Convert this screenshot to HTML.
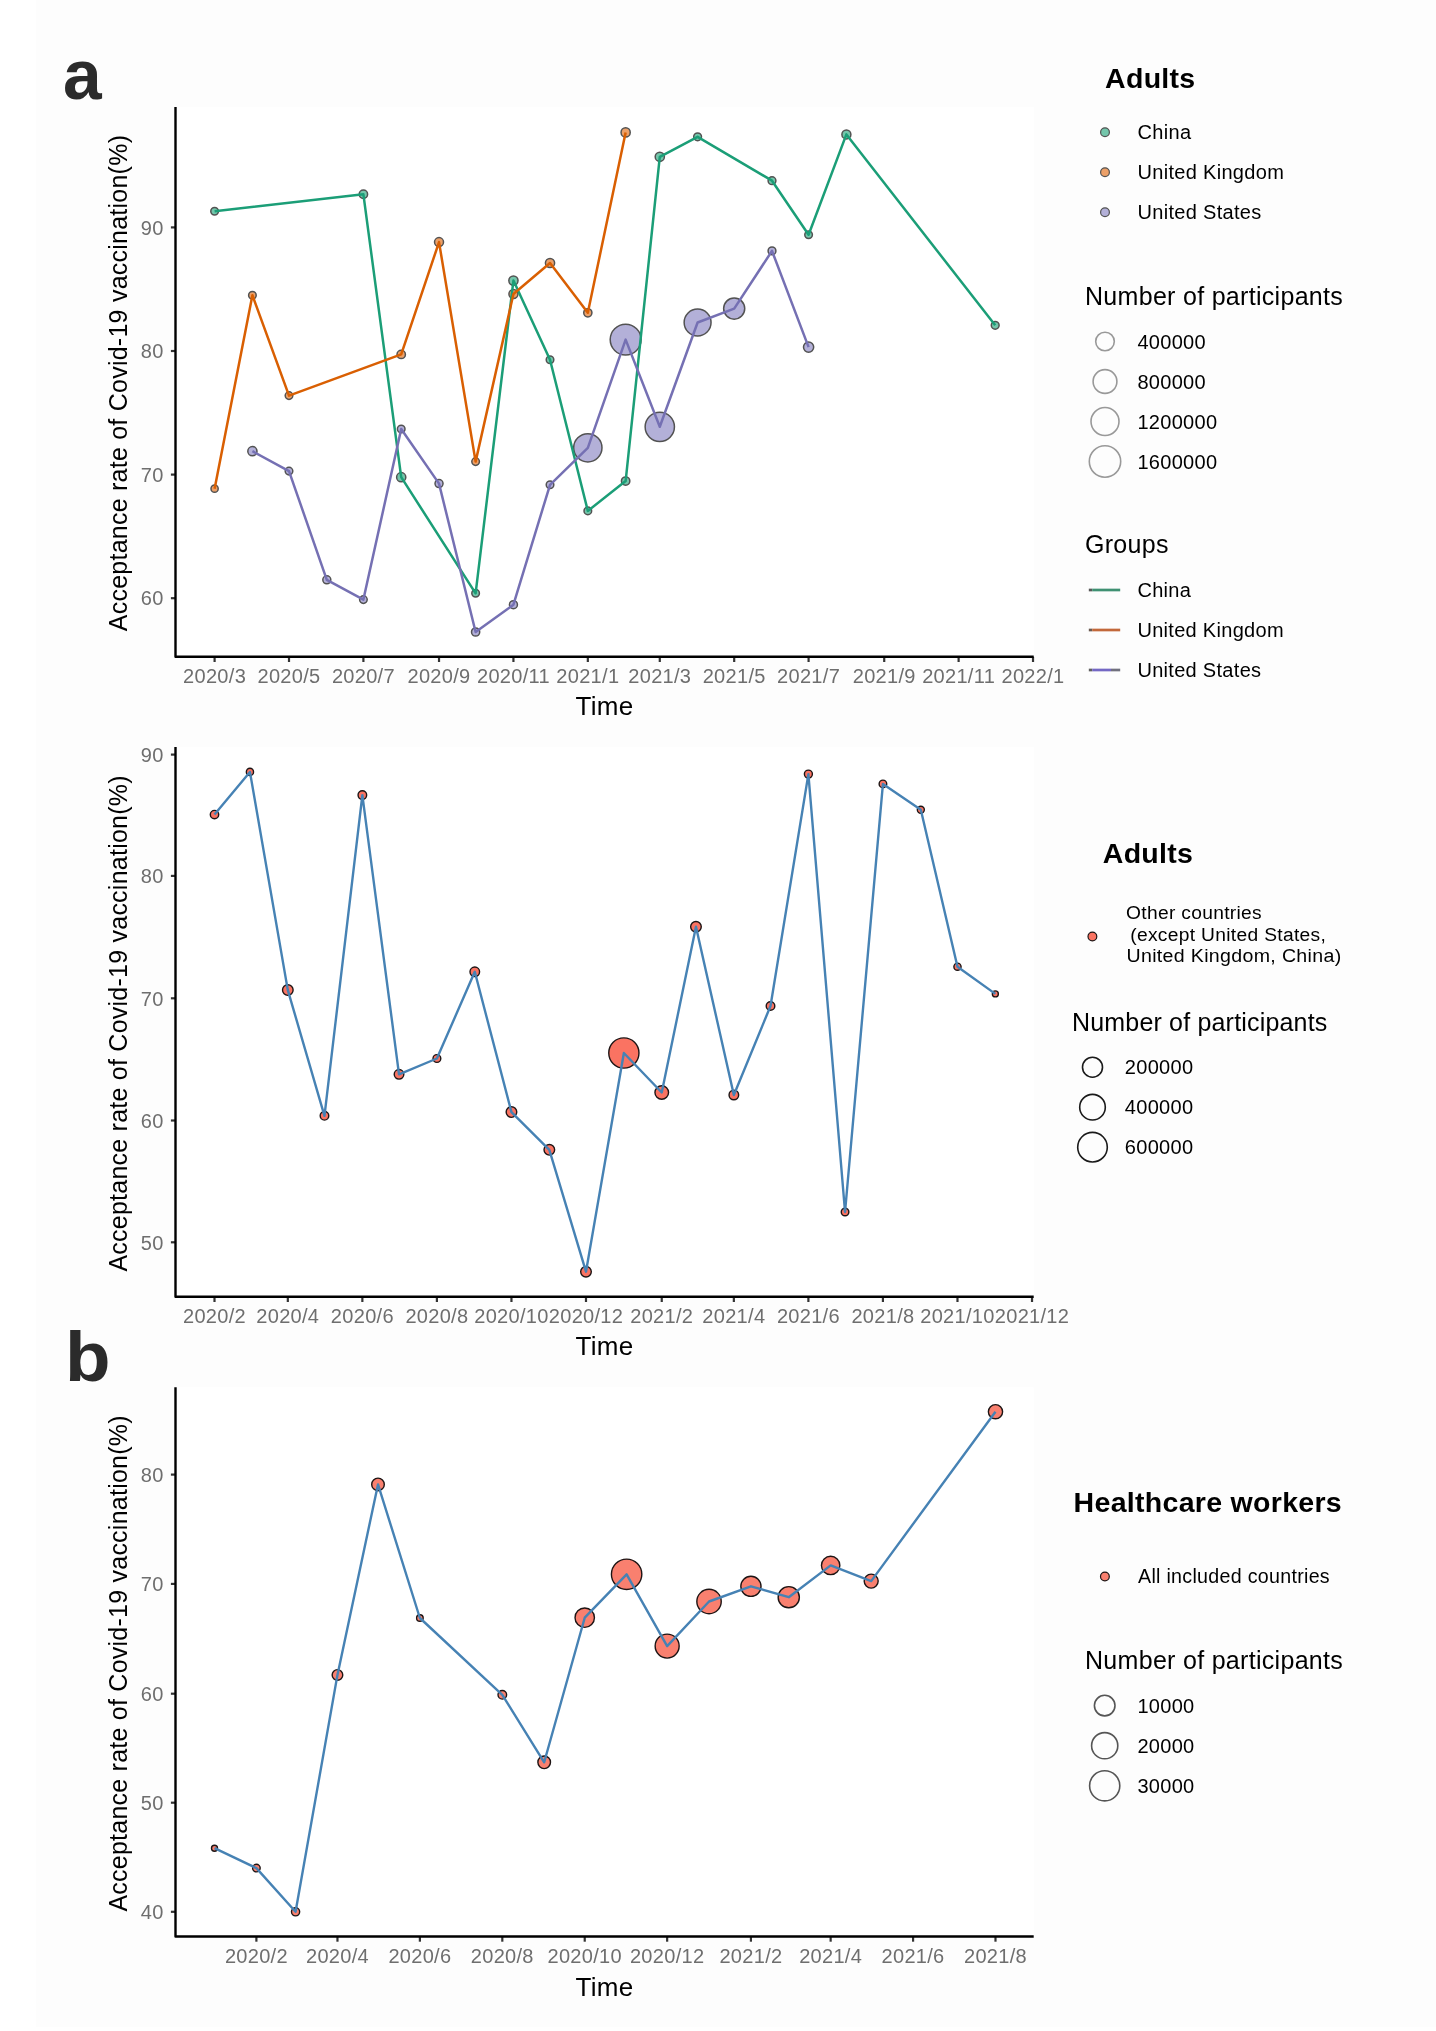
<!DOCTYPE html>
<html><head><meta charset="utf-8"><title>Covid-19 vaccination acceptance</title>
<style>html,body{margin:0;padding:0;background:#fff;}body{width:1436px;height:2031px;position:relative;overflow:hidden;font-family:"Liberation Sans", sans-serif;}#fig{position:absolute;left:0;top:0;will-change:transform;font-family:"Liberation Sans", sans-serif;letter-spacing:0.3px;}</style>
</head><body>
<svg width="1436" height="2031" viewBox="0 0 1436 2031" id="fig">
<rect x="0" y="0" width="1436" height="2031" fill="#ffffff"/>
<rect x="36" y="0" width="1400" height="2027" fill="#fdfdfd"/>
<text x="63.00" y="99.00" font-size="69.5" fill="#2b2b2b" text-anchor="start" font-weight="bold" >a</text>
<text x="0.00" y="0.00" font-size="71" fill="#2b2b2b" text-anchor="start" font-weight="bold" transform="translate(65.0,1381.4) scale(1.05,1)">b</text>
<rect x="175.50" y="107.00" width="858.20" height="549.80" fill="#ffffff"/>
<line x1="170.90" y1="227.40" x2="175.50" y2="227.40" stroke="#333333" stroke-width="2.2"/>
<text x="163.60" y="234.60" font-size="20" fill="#6e6e6e" text-anchor="end" font-weight="normal" >90</text>
<line x1="170.90" y1="351.00" x2="175.50" y2="351.00" stroke="#333333" stroke-width="2.2"/>
<text x="163.60" y="358.20" font-size="20" fill="#6e6e6e" text-anchor="end" font-weight="normal" >80</text>
<line x1="170.90" y1="474.60" x2="175.50" y2="474.60" stroke="#333333" stroke-width="2.2"/>
<text x="163.60" y="481.80" font-size="20" fill="#6e6e6e" text-anchor="end" font-weight="normal" >70</text>
<line x1="170.90" y1="598.20" x2="175.50" y2="598.20" stroke="#333333" stroke-width="2.2"/>
<text x="163.60" y="605.40" font-size="20" fill="#6e6e6e" text-anchor="end" font-weight="normal" >60</text>
<line x1="214.60" y1="656.80" x2="214.60" y2="662.00" stroke="#333333" stroke-width="2.2"/>
<text x="214.60" y="682.80" font-size="20" fill="#6e6e6e" text-anchor="middle" font-weight="normal" >2020/3</text>
<line x1="289.00" y1="656.80" x2="289.00" y2="662.00" stroke="#333333" stroke-width="2.2"/>
<text x="289.00" y="682.80" font-size="20" fill="#6e6e6e" text-anchor="middle" font-weight="normal" >2020/5</text>
<line x1="363.40" y1="656.80" x2="363.40" y2="662.00" stroke="#333333" stroke-width="2.2"/>
<text x="363.40" y="682.80" font-size="20" fill="#6e6e6e" text-anchor="middle" font-weight="normal" >2020/7</text>
<line x1="439.02" y1="656.80" x2="439.02" y2="662.00" stroke="#333333" stroke-width="2.2"/>
<text x="439.02" y="682.80" font-size="20" fill="#6e6e6e" text-anchor="middle" font-weight="normal" >2020/9</text>
<line x1="513.43" y1="656.80" x2="513.43" y2="662.00" stroke="#333333" stroke-width="2.2"/>
<text x="513.43" y="682.80" font-size="20" fill="#6e6e6e" text-anchor="middle" font-weight="normal" >2020/11</text>
<line x1="587.83" y1="656.80" x2="587.83" y2="662.00" stroke="#333333" stroke-width="2.2"/>
<text x="587.83" y="682.80" font-size="20" fill="#6e6e6e" text-anchor="middle" font-weight="normal" >2021/1</text>
<line x1="659.79" y1="656.80" x2="659.79" y2="662.00" stroke="#333333" stroke-width="2.2"/>
<text x="659.79" y="682.80" font-size="20" fill="#6e6e6e" text-anchor="middle" font-weight="normal" >2021/3</text>
<line x1="734.19" y1="656.80" x2="734.19" y2="662.00" stroke="#333333" stroke-width="2.2"/>
<text x="734.19" y="682.80" font-size="20" fill="#6e6e6e" text-anchor="middle" font-weight="normal" >2021/5</text>
<line x1="808.59" y1="656.80" x2="808.59" y2="662.00" stroke="#333333" stroke-width="2.2"/>
<text x="808.59" y="682.80" font-size="20" fill="#6e6e6e" text-anchor="middle" font-weight="normal" >2021/7</text>
<line x1="884.22" y1="656.80" x2="884.22" y2="662.00" stroke="#333333" stroke-width="2.2"/>
<text x="884.22" y="682.80" font-size="20" fill="#6e6e6e" text-anchor="middle" font-weight="normal" >2021/9</text>
<line x1="958.62" y1="656.80" x2="958.62" y2="662.00" stroke="#333333" stroke-width="2.2"/>
<text x="958.62" y="682.80" font-size="20" fill="#6e6e6e" text-anchor="middle" font-weight="normal" >2021/11</text>
<line x1="1033.02" y1="656.80" x2="1033.02" y2="662.00" stroke="#333333" stroke-width="2.2"/>
<text x="1033.02" y="682.80" font-size="20" fill="#6e6e6e" text-anchor="middle" font-weight="normal" >2022/1</text>
<path d="M175.50,107.00 L175.50,656.80 L1033.70,656.80" fill="none" stroke="#000" stroke-width="2.4" stroke-linejoin="round" stroke-linecap="butt"/>
<text x="604.60" y="715.00" font-size="26" fill="#000" text-anchor="middle" font-weight="normal" >Time</text>
<text x="0" y="0" font-size="25.0" fill="#000" text-anchor="middle" letter-spacing="0.24" transform="translate(127.2,383.00) rotate(-90)">Acceptance rate of Covid-19 vaccination(%)</text>
<circle cx="214.60" cy="211.20" r="3.80" fill="#74c6ab" stroke="#525252" stroke-width="1.5"/>
<circle cx="363.40" cy="194.30" r="4.20" fill="#74c6ab" stroke="#525252" stroke-width="1.5"/>
<circle cx="401.21" cy="477.20" r="4.60" fill="#74c6ab" stroke="#525252" stroke-width="1.5"/>
<circle cx="475.62" cy="593.30" r="3.80" fill="#74c6ab" stroke="#525252" stroke-width="1.5"/>
<circle cx="513.43" cy="280.60" r="4.60" fill="#74c6ab" stroke="#525252" stroke-width="1.5"/>
<circle cx="550.02" cy="359.80" r="3.80" fill="#74c6ab" stroke="#525252" stroke-width="1.5"/>
<circle cx="587.83" cy="510.90" r="3.80" fill="#74c6ab" stroke="#525252" stroke-width="1.5"/>
<circle cx="625.64" cy="481.10" r="4.20" fill="#74c6ab" stroke="#525252" stroke-width="1.5"/>
<circle cx="659.79" cy="156.80" r="4.60" fill="#74c6ab" stroke="#525252" stroke-width="1.5"/>
<circle cx="697.60" cy="136.80" r="3.90" fill="#74c6ab" stroke="#525252" stroke-width="1.5"/>
<circle cx="772.00" cy="180.70" r="3.90" fill="#74c6ab" stroke="#525252" stroke-width="1.5"/>
<circle cx="808.59" cy="234.80" r="3.80" fill="#74c6ab" stroke="#525252" stroke-width="1.5"/>
<circle cx="846.40" cy="134.40" r="4.50" fill="#74c6ab" stroke="#525252" stroke-width="1.5"/>
<circle cx="995.21" cy="325.30" r="3.90" fill="#74c6ab" stroke="#525252" stroke-width="1.5"/>
<circle cx="214.60" cy="488.70" r="3.60" fill="#eca068" stroke="#525252" stroke-width="1.5"/>
<circle cx="252.41" cy="295.20" r="3.80" fill="#eca068" stroke="#525252" stroke-width="1.5"/>
<circle cx="289.00" cy="395.60" r="3.80" fill="#eca068" stroke="#525252" stroke-width="1.5"/>
<circle cx="401.21" cy="354.40" r="4.20" fill="#eca068" stroke="#525252" stroke-width="1.5"/>
<circle cx="439.02" cy="242.10" r="4.50" fill="#eca068" stroke="#525252" stroke-width="1.5"/>
<circle cx="475.62" cy="461.60" r="3.80" fill="#eca068" stroke="#525252" stroke-width="1.5"/>
<circle cx="513.43" cy="294.00" r="4.50" fill="#eca068" stroke="#525252" stroke-width="1.5"/>
<circle cx="550.02" cy="263.00" r="4.60" fill="#eca068" stroke="#525252" stroke-width="1.5"/>
<circle cx="587.83" cy="312.80" r="4.10" fill="#eca068" stroke="#525252" stroke-width="1.5"/>
<circle cx="625.64" cy="132.40" r="4.60" fill="#eca068" stroke="#525252" stroke-width="1.5"/>
<circle cx="252.41" cy="451.20" r="4.60" fill="#b3b0d8" stroke="#525252" stroke-width="1.5"/>
<circle cx="289.00" cy="471.10" r="3.80" fill="#b3b0d8" stroke="#525252" stroke-width="1.5"/>
<circle cx="326.81" cy="579.80" r="4.00" fill="#b3b0d8" stroke="#525252" stroke-width="1.5"/>
<circle cx="363.40" cy="599.60" r="3.80" fill="#b3b0d8" stroke="#525252" stroke-width="1.5"/>
<circle cx="401.21" cy="429.00" r="3.80" fill="#b3b0d8" stroke="#525252" stroke-width="1.5"/>
<circle cx="439.02" cy="483.60" r="4.00" fill="#b3b0d8" stroke="#525252" stroke-width="1.5"/>
<circle cx="475.62" cy="632.00" r="4.10" fill="#b3b0d8" stroke="#525252" stroke-width="1.5"/>
<circle cx="513.43" cy="604.70" r="4.00" fill="#b3b0d8" stroke="#525252" stroke-width="1.5"/>
<circle cx="550.02" cy="484.80" r="3.80" fill="#b3b0d8" stroke="#525252" stroke-width="1.5"/>
<circle cx="587.83" cy="447.80" r="14.15" fill="#b3b0d8" stroke="#525252" stroke-width="1.5"/>
<circle cx="625.64" cy="339.60" r="15.45" fill="#b3b0d8" stroke="#525252" stroke-width="1.5"/>
<circle cx="659.79" cy="426.80" r="14.65" fill="#b3b0d8" stroke="#525252" stroke-width="1.5"/>
<circle cx="697.60" cy="322.50" r="13.45" fill="#b3b0d8" stroke="#525252" stroke-width="1.5"/>
<circle cx="734.19" cy="308.60" r="10.55" fill="#b3b0d8" stroke="#525252" stroke-width="1.5"/>
<circle cx="772.00" cy="250.90" r="3.90" fill="#b3b0d8" stroke="#525252" stroke-width="1.5"/>
<circle cx="808.59" cy="347.10" r="5.10" fill="#b3b0d8" stroke="#525252" stroke-width="1.5"/>
<polyline points="214.60,211.20 363.40,194.30 401.21,477.20 475.62,593.30 513.43,280.60 550.02,359.80 587.83,510.90 625.64,481.10 659.79,156.80 697.60,136.80 772.00,180.70 808.59,234.80 846.40,134.40 995.21,325.30" fill="none" stroke="#1B9E77" stroke-width="2.5" stroke-linejoin="round" stroke-linecap="butt"/>
<polyline points="214.60,488.70 252.41,295.20 289.00,395.60 401.21,354.40 439.02,242.10 475.62,461.60 513.43,294.00 550.02,263.00 587.83,312.80 625.64,132.40" fill="none" stroke="#D95F02" stroke-width="2.5" stroke-linejoin="round" stroke-linecap="butt"/>
<polyline points="252.41,451.20 289.00,471.10 326.81,579.80 363.40,599.60 401.21,429.00 439.02,483.60 475.62,632.00 513.43,604.70 550.02,484.80 587.83,447.80 625.64,339.60 659.79,426.80 697.60,322.50 734.19,308.60 772.00,250.90 808.59,347.10" fill="none" stroke="#7570B3" stroke-width="2.5" stroke-linejoin="round" stroke-linecap="butt"/>
<text x="1150.30" y="88.00" font-size="28.5" fill="#000" text-anchor="middle" font-weight="bold" >Adults</text>
<circle cx="1105.0" cy="132.20" r="4.4" fill="#74c6ab" stroke="#525252" stroke-width="1.2"/>
<text x="1137.60" y="139.20" font-size="20" fill="#000" text-anchor="start" font-weight="normal" >China</text>
<circle cx="1105.0" cy="172.20" r="4.4" fill="#eca068" stroke="#525252" stroke-width="1.2"/>
<text x="1137.60" y="179.20" font-size="20" fill="#000" text-anchor="start" font-weight="normal" >United Kingdom</text>
<circle cx="1105.0" cy="212.20" r="4.4" fill="#b3b0d8" stroke="#525252" stroke-width="1.2"/>
<text x="1137.60" y="219.20" font-size="20" fill="#000" text-anchor="start" font-weight="normal" >United States</text>
<text x="1085.00" y="305.30" font-size="25" fill="#000" text-anchor="start" font-weight="normal" >Number of participants</text>
<circle cx="1105.0" cy="341.50" r="9.3" fill="none" stroke="#999999" stroke-width="1.6"/>
<text x="1137.40" y="348.50" font-size="20" fill="#000" text-anchor="start" font-weight="normal" >400000</text>
<circle cx="1105.0" cy="381.50" r="11.9" fill="none" stroke="#999999" stroke-width="1.6"/>
<text x="1137.40" y="388.50" font-size="20" fill="#000" text-anchor="start" font-weight="normal" >800000</text>
<circle cx="1105.0" cy="421.50" r="14.0" fill="none" stroke="#999999" stroke-width="1.6"/>
<text x="1137.40" y="428.50" font-size="20" fill="#000" text-anchor="start" font-weight="normal" >1200000</text>
<circle cx="1105.0" cy="461.50" r="15.7" fill="none" stroke="#999999" stroke-width="1.6"/>
<text x="1137.40" y="468.50" font-size="20" fill="#000" text-anchor="start" font-weight="normal" >1600000</text>
<text x="1085.00" y="553.30" font-size="25" fill="#000" text-anchor="start" font-weight="normal" >Groups</text>
<line x1="1088.8" y1="590.00" x2="1092.2" y2="590.00" stroke="#585858" stroke-width="2.7"/>
<line x1="1092.2" y1="590.00" x2="1120.2" y2="590.00" stroke="#3f9172" stroke-width="2.7"/>
<text x="1137.40" y="597.20" font-size="20" fill="#000" text-anchor="start" font-weight="normal" >China</text>
<line x1="1088.8" y1="630.00" x2="1092.2" y2="630.00" stroke="#6a5a50" stroke-width="2.7"/>
<line x1="1092.2" y1="630.00" x2="1120.2" y2="630.00" stroke="#c2683a" stroke-width="2.7"/>
<text x="1137.40" y="637.20" font-size="20" fill="#000" text-anchor="start" font-weight="normal" >United Kingdom</text>
<line x1="1088.8" y1="670.00" x2="1092.2" y2="670.00" stroke="#606060" stroke-width="2.7"/>
<line x1="1092.2" y1="670.00" x2="1111.0" y2="670.00" stroke="#7468c4" stroke-width="2.7"/>
<line x1="1111.0" y1="670.00" x2="1120.2" y2="670.00" stroke="#70707e" stroke-width="2.7"/>
<text x="1137.40" y="677.20" font-size="20" fill="#000" text-anchor="start" font-weight="normal" >United States</text>
<rect x="175.50" y="747.00" width="858.20" height="549.80" fill="#ffffff"/>
<line x1="170.90" y1="754.60" x2="175.50" y2="754.60" stroke="#333333" stroke-width="2.2"/>
<text x="163.60" y="761.80" font-size="20" fill="#6e6e6e" text-anchor="end" font-weight="normal" >90</text>
<line x1="170.90" y1="875.90" x2="175.50" y2="875.90" stroke="#333333" stroke-width="2.2"/>
<text x="163.60" y="883.10" font-size="20" fill="#6e6e6e" text-anchor="end" font-weight="normal" >80</text>
<line x1="170.90" y1="998.30" x2="175.50" y2="998.30" stroke="#333333" stroke-width="2.2"/>
<text x="163.60" y="1005.50" font-size="20" fill="#6e6e6e" text-anchor="end" font-weight="normal" >70</text>
<line x1="170.90" y1="1120.50" x2="175.50" y2="1120.50" stroke="#333333" stroke-width="2.2"/>
<text x="163.60" y="1127.70" font-size="20" fill="#6e6e6e" text-anchor="end" font-weight="normal" >60</text>
<line x1="170.90" y1="1242.30" x2="175.50" y2="1242.30" stroke="#333333" stroke-width="2.2"/>
<text x="163.60" y="1249.50" font-size="20" fill="#6e6e6e" text-anchor="end" font-weight="normal" >50</text>
<line x1="214.50" y1="1296.80" x2="214.50" y2="1302.00" stroke="#333333" stroke-width="2.2"/>
<text x="214.50" y="1322.80" font-size="20" fill="#6e6e6e" text-anchor="middle" font-weight="normal" >2020/2</text>
<line x1="287.82" y1="1296.80" x2="287.82" y2="1302.00" stroke="#333333" stroke-width="2.2"/>
<text x="287.82" y="1322.80" font-size="20" fill="#6e6e6e" text-anchor="middle" font-weight="normal" >2020/4</text>
<line x1="362.36" y1="1296.80" x2="362.36" y2="1302.00" stroke="#333333" stroke-width="2.2"/>
<text x="362.36" y="1322.80" font-size="20" fill="#6e6e6e" text-anchor="middle" font-weight="normal" >2020/6</text>
<line x1="436.90" y1="1296.80" x2="436.90" y2="1302.00" stroke="#333333" stroke-width="2.2"/>
<text x="436.90" y="1322.80" font-size="20" fill="#6e6e6e" text-anchor="middle" font-weight="normal" >2020/8</text>
<line x1="511.45" y1="1296.80" x2="511.45" y2="1302.00" stroke="#333333" stroke-width="2.2"/>
<text x="511.45" y="1322.80" font-size="20" fill="#6e6e6e" text-anchor="middle" font-weight="normal" >2020/10</text>
<line x1="585.99" y1="1296.80" x2="585.99" y2="1302.00" stroke="#333333" stroke-width="2.2"/>
<text x="585.99" y="1322.80" font-size="20" fill="#6e6e6e" text-anchor="middle" font-weight="normal" >2020/12</text>
<line x1="661.75" y1="1296.80" x2="661.75" y2="1302.00" stroke="#333333" stroke-width="2.2"/>
<text x="661.75" y="1322.80" font-size="20" fill="#6e6e6e" text-anchor="middle" font-weight="normal" >2021/2</text>
<line x1="733.85" y1="1296.80" x2="733.85" y2="1302.00" stroke="#333333" stroke-width="2.2"/>
<text x="733.85" y="1322.80" font-size="20" fill="#6e6e6e" text-anchor="middle" font-weight="normal" >2021/4</text>
<line x1="808.39" y1="1296.80" x2="808.39" y2="1302.00" stroke="#333333" stroke-width="2.2"/>
<text x="808.39" y="1322.80" font-size="20" fill="#6e6e6e" text-anchor="middle" font-weight="normal" >2021/6</text>
<line x1="882.93" y1="1296.80" x2="882.93" y2="1302.00" stroke="#333333" stroke-width="2.2"/>
<text x="882.93" y="1322.80" font-size="20" fill="#6e6e6e" text-anchor="middle" font-weight="normal" >2021/8</text>
<line x1="957.48" y1="1296.80" x2="957.48" y2="1302.00" stroke="#333333" stroke-width="2.2"/>
<text x="957.48" y="1322.80" font-size="20" fill="#6e6e6e" text-anchor="middle" font-weight="normal" >2021/10</text>
<line x1="1032.02" y1="1296.80" x2="1032.02" y2="1302.00" stroke="#333333" stroke-width="2.2"/>
<text x="1032.02" y="1322.80" font-size="20" fill="#6e6e6e" text-anchor="middle" font-weight="normal" >2021/12</text>
<path d="M175.50,747.00 L175.50,1296.80 L1033.70,1296.80" fill="none" stroke="#000" stroke-width="2.4" stroke-linejoin="round" stroke-linecap="butt"/>
<text x="604.60" y="1355.40" font-size="26" fill="#000" text-anchor="middle" font-weight="normal" >Time</text>
<text x="0" y="0" font-size="25.0" fill="#000" text-anchor="middle" letter-spacing="0.24" transform="translate(127.2,1023.40) rotate(-90)">Acceptance rate of Covid-19 vaccination(%)</text>
<circle cx="214.50" cy="814.60" r="4.20" fill="#FA7362" stroke="#1c1414" stroke-width="1.4"/>
<circle cx="249.94" cy="771.90" r="3.60" fill="#FA7362" stroke="#1c1414" stroke-width="1.4"/>
<circle cx="287.82" cy="990.10" r="5.30" fill="#FA7362" stroke="#1c1414" stroke-width="1.4"/>
<circle cx="324.48" cy="1115.80" r="4.30" fill="#FA7362" stroke="#1c1414" stroke-width="1.4"/>
<circle cx="362.36" cy="795.10" r="4.30" fill="#FA7362" stroke="#1c1414" stroke-width="1.4"/>
<circle cx="399.02" cy="1074.30" r="4.80" fill="#FA7362" stroke="#1c1414" stroke-width="1.4"/>
<circle cx="436.90" cy="1058.50" r="3.90" fill="#FA7362" stroke="#1c1414" stroke-width="1.4"/>
<circle cx="474.79" cy="971.80" r="4.80" fill="#FA7362" stroke="#1c1414" stroke-width="1.4"/>
<circle cx="511.45" cy="1112.10" r="5.30" fill="#FA7362" stroke="#1c1414" stroke-width="1.4"/>
<circle cx="549.33" cy="1149.80" r="5.30" fill="#FA7362" stroke="#1c1414" stroke-width="1.4"/>
<circle cx="585.99" cy="1271.70" r="5.30" fill="#FA7362" stroke="#1c1414" stroke-width="1.4"/>
<circle cx="623.87" cy="1053.00" r="15.10" fill="#FA7362" stroke="#1c1414" stroke-width="1.4"/>
<circle cx="661.75" cy="1092.50" r="6.80" fill="#FA7362" stroke="#1c1414" stroke-width="1.4"/>
<circle cx="695.97" cy="926.80" r="5.30" fill="#FA7362" stroke="#1c1414" stroke-width="1.4"/>
<circle cx="733.85" cy="1095.00" r="4.80" fill="#FA7362" stroke="#1c1414" stroke-width="1.4"/>
<circle cx="770.51" cy="1006.00" r="4.30" fill="#FA7362" stroke="#1c1414" stroke-width="1.4"/>
<circle cx="808.39" cy="774.10" r="4.00" fill="#FA7362" stroke="#1c1414" stroke-width="1.4"/>
<circle cx="845.05" cy="1212.00" r="3.80" fill="#FA7362" stroke="#1c1414" stroke-width="1.4"/>
<circle cx="882.93" cy="783.90" r="3.80" fill="#FA7362" stroke="#1c1414" stroke-width="1.4"/>
<circle cx="920.82" cy="809.80" r="3.50" fill="#FA7362" stroke="#1c1414" stroke-width="1.4"/>
<circle cx="957.48" cy="966.70" r="3.60" fill="#FA7362" stroke="#1c1414" stroke-width="1.4"/>
<circle cx="995.36" cy="993.90" r="3.00" fill="#FA7362" stroke="#1c1414" stroke-width="1.4"/>
<polyline points="214.50,814.60 249.94,771.90 287.82,990.10 324.48,1115.80 362.36,795.10 399.02,1074.30 436.90,1058.50 474.79,971.80 511.45,1112.10 549.33,1149.80 585.99,1271.70 623.87,1053.00 661.75,1092.50 695.97,926.80 733.85,1095.00 770.51,1006.00 808.39,774.10 845.05,1212.00 882.93,783.90 920.82,809.80 957.48,966.70 995.36,993.90" fill="none" stroke="#4682B4" stroke-width="2.4" stroke-linejoin="round" stroke-linecap="butt"/>
<text x="1148.00" y="862.80" font-size="28.5" fill="#000" text-anchor="middle" font-weight="bold" >Adults</text>
<circle cx="1092.4" cy="936.5" r="4.4" fill="#FA7362" stroke="#1c1414" stroke-width="1.2"/>
<text x="1126.00" y="919.00" font-size="18" fill="#000" text-anchor="start" font-weight="normal" textLength="136" lengthAdjust="spacingAndGlyphs">Other countries</text>
<text x="1130.20" y="940.50" font-size="18" fill="#000" text-anchor="start" font-weight="normal" textLength="196" lengthAdjust="spacingAndGlyphs">(except United States,</text>
<text x="1126.50" y="962.00" font-size="18" fill="#000" text-anchor="start" font-weight="normal" textLength="215" lengthAdjust="spacingAndGlyphs">United Kingdom, China)</text>
<text x="1072.00" y="1030.90" font-size="25" fill="#000" text-anchor="start" font-weight="normal" letter-spacing="0.18">Number of participants</text>
<circle cx="1092.5" cy="1067.20" r="10.0" fill="none" stroke="#1a1a1a" stroke-width="1.6"/>
<text x="1124.80" y="1074.20" font-size="20" fill="#000" text-anchor="start" font-weight="normal" >200000</text>
<circle cx="1092.5" cy="1107.20" r="12.8" fill="none" stroke="#1a1a1a" stroke-width="1.6"/>
<text x="1124.80" y="1114.20" font-size="20" fill="#000" text-anchor="start" font-weight="normal" >400000</text>
<circle cx="1092.5" cy="1147.20" r="14.8" fill="none" stroke="#1a1a1a" stroke-width="1.6"/>
<text x="1124.80" y="1154.20" font-size="20" fill="#000" text-anchor="start" font-weight="normal" >600000</text>
<rect x="175.50" y="1387.30" width="858.20" height="549.20" fill="#ffffff"/>
<line x1="170.90" y1="1474.60" x2="175.50" y2="1474.60" stroke="#333333" stroke-width="2.2"/>
<text x="163.60" y="1481.80" font-size="20" fill="#6e6e6e" text-anchor="end" font-weight="normal" >80</text>
<line x1="170.90" y1="1583.90" x2="175.50" y2="1583.90" stroke="#333333" stroke-width="2.2"/>
<text x="163.60" y="1591.10" font-size="20" fill="#6e6e6e" text-anchor="end" font-weight="normal" >70</text>
<line x1="170.90" y1="1693.70" x2="175.50" y2="1693.70" stroke="#333333" stroke-width="2.2"/>
<text x="163.60" y="1700.90" font-size="20" fill="#6e6e6e" text-anchor="end" font-weight="normal" >60</text>
<line x1="170.90" y1="1802.70" x2="175.50" y2="1802.70" stroke="#333333" stroke-width="2.2"/>
<text x="163.60" y="1809.90" font-size="20" fill="#6e6e6e" text-anchor="end" font-weight="normal" >50</text>
<line x1="170.90" y1="1911.80" x2="175.50" y2="1911.80" stroke="#333333" stroke-width="2.2"/>
<text x="163.60" y="1919.00" font-size="20" fill="#6e6e6e" text-anchor="end" font-weight="normal" >40</text>
<line x1="256.39" y1="1936.50" x2="256.39" y2="1941.70" stroke="#333333" stroke-width="2.2"/>
<text x="256.39" y="1962.50" font-size="20" fill="#6e6e6e" text-anchor="middle" font-weight="normal" >2020/2</text>
<line x1="337.46" y1="1936.50" x2="337.46" y2="1941.70" stroke="#333333" stroke-width="2.2"/>
<text x="337.46" y="1962.50" font-size="20" fill="#6e6e6e" text-anchor="middle" font-weight="normal" >2020/4</text>
<line x1="419.88" y1="1936.50" x2="419.88" y2="1941.70" stroke="#333333" stroke-width="2.2"/>
<text x="419.88" y="1962.50" font-size="20" fill="#6e6e6e" text-anchor="middle" font-weight="normal" >2020/6</text>
<line x1="502.31" y1="1936.50" x2="502.31" y2="1941.70" stroke="#333333" stroke-width="2.2"/>
<text x="502.31" y="1962.50" font-size="20" fill="#6e6e6e" text-anchor="middle" font-weight="normal" >2020/8</text>
<line x1="584.73" y1="1936.50" x2="584.73" y2="1941.70" stroke="#333333" stroke-width="2.2"/>
<text x="584.73" y="1962.50" font-size="20" fill="#6e6e6e" text-anchor="middle" font-weight="normal" >2020/10</text>
<line x1="667.15" y1="1936.50" x2="667.15" y2="1941.70" stroke="#333333" stroke-width="2.2"/>
<text x="667.15" y="1962.50" font-size="20" fill="#6e6e6e" text-anchor="middle" font-weight="normal" >2020/12</text>
<line x1="750.93" y1="1936.50" x2="750.93" y2="1941.70" stroke="#333333" stroke-width="2.2"/>
<text x="750.93" y="1962.50" font-size="20" fill="#6e6e6e" text-anchor="middle" font-weight="normal" >2021/2</text>
<line x1="830.65" y1="1936.50" x2="830.65" y2="1941.70" stroke="#333333" stroke-width="2.2"/>
<text x="830.65" y="1962.50" font-size="20" fill="#6e6e6e" text-anchor="middle" font-weight="normal" >2021/4</text>
<line x1="913.07" y1="1936.50" x2="913.07" y2="1941.70" stroke="#333333" stroke-width="2.2"/>
<text x="913.07" y="1962.50" font-size="20" fill="#6e6e6e" text-anchor="middle" font-weight="normal" >2021/6</text>
<line x1="995.49" y1="1936.50" x2="995.49" y2="1941.70" stroke="#333333" stroke-width="2.2"/>
<text x="995.49" y="1962.50" font-size="20" fill="#6e6e6e" text-anchor="middle" font-weight="normal" >2021/8</text>
<path d="M175.50,1387.30 L175.50,1936.50 L1033.70,1936.50" fill="none" stroke="#000" stroke-width="2.4" stroke-linejoin="round" stroke-linecap="butt"/>
<text x="604.60" y="1995.70" font-size="26" fill="#000" text-anchor="middle" font-weight="normal" >Time</text>
<text x="0" y="0" font-size="25.0" fill="#000" text-anchor="middle" letter-spacing="0.24" transform="translate(127.2,1663.40) rotate(-90)">Acceptance rate of Covid-19 vaccination(%)</text>
<circle cx="214.50" cy="1848.20" r="3.00" fill="#F9806F" stroke="#1c1414" stroke-width="1.4"/>
<circle cx="256.39" cy="1868.10" r="3.80" fill="#F9806F" stroke="#1c1414" stroke-width="1.4"/>
<circle cx="295.57" cy="1911.80" r="4.10" fill="#F9806F" stroke="#1c1414" stroke-width="1.4"/>
<circle cx="337.46" cy="1674.90" r="5.30" fill="#F9806F" stroke="#1c1414" stroke-width="1.4"/>
<circle cx="378.00" cy="1484.40" r="6.30" fill="#F9806F" stroke="#1c1414" stroke-width="1.4"/>
<circle cx="419.88" cy="1618.00" r="3.30" fill="#F9806F" stroke="#1c1414" stroke-width="1.4"/>
<circle cx="502.31" cy="1694.80" r="4.30" fill="#F9806F" stroke="#1c1414" stroke-width="1.4"/>
<circle cx="544.19" cy="1762.30" r="6.30" fill="#F9806F" stroke="#1c1414" stroke-width="1.4"/>
<circle cx="584.73" cy="1617.70" r="9.70" fill="#F9806F" stroke="#1c1414" stroke-width="1.4"/>
<circle cx="626.62" cy="1574.30" r="15.20" fill="#F9806F" stroke="#1c1414" stroke-width="1.4"/>
<circle cx="667.15" cy="1646.10" r="12.00" fill="#F9806F" stroke="#1c1414" stroke-width="1.4"/>
<circle cx="709.04" cy="1601.50" r="12.20" fill="#F9806F" stroke="#1c1414" stroke-width="1.4"/>
<circle cx="750.93" cy="1586.30" r="10.10" fill="#F9806F" stroke="#1c1414" stroke-width="1.4"/>
<circle cx="788.76" cy="1597.20" r="10.60" fill="#F9806F" stroke="#1c1414" stroke-width="1.4"/>
<circle cx="830.65" cy="1565.40" r="9.20" fill="#F9806F" stroke="#1c1414" stroke-width="1.4"/>
<circle cx="871.18" cy="1581.10" r="7.00" fill="#F9806F" stroke="#1c1414" stroke-width="1.4"/>
<circle cx="995.49" cy="1411.70" r="7.10" fill="#F9806F" stroke="#1c1414" stroke-width="1.4"/>
<polyline points="214.50,1848.20 256.39,1868.10 295.57,1911.80 337.46,1674.90 378.00,1484.40 419.88,1618.00 502.31,1694.80 544.19,1762.30 584.73,1617.70 626.62,1574.30 667.15,1646.10 709.04,1601.50 750.93,1586.30 788.76,1597.20 830.65,1565.40 871.18,1581.10 995.49,1411.70" fill="none" stroke="#4682B4" stroke-width="2.4" stroke-linejoin="round" stroke-linecap="butt"/>
<text x="1207.80" y="1511.80" font-size="28.5" fill="#000" text-anchor="middle" font-weight="bold" >Healthcare workers</text>
<circle cx="1104.9" cy="1576.5" r="4.4" fill="#F9806F" stroke="#1c1414" stroke-width="1.2"/>
<text x="1138.00" y="1583.40" font-size="20" fill="#000" text-anchor="start" font-weight="normal" textLength="192" lengthAdjust="spacingAndGlyphs">All included countries</text>
<text x="1085.00" y="1668.60" font-size="25" fill="#000" text-anchor="start" font-weight="normal" >Number of participants</text>
<circle cx="1104.7" cy="1705.60" r="10.3" fill="none" stroke="#555555" stroke-width="1.6"/>
<text x="1137.40" y="1712.80" font-size="20" fill="#000" text-anchor="start" font-weight="normal" >10000</text>
<circle cx="1104.7" cy="1745.70" r="13.1" fill="none" stroke="#555555" stroke-width="1.6"/>
<text x="1137.40" y="1752.90" font-size="20" fill="#000" text-anchor="start" font-weight="normal" >20000</text>
<circle cx="1104.7" cy="1785.80" r="15.1" fill="none" stroke="#555555" stroke-width="1.6"/>
<text x="1137.40" y="1793.00" font-size="20" fill="#000" text-anchor="start" font-weight="normal" >30000</text>
</svg>
</body></html>
